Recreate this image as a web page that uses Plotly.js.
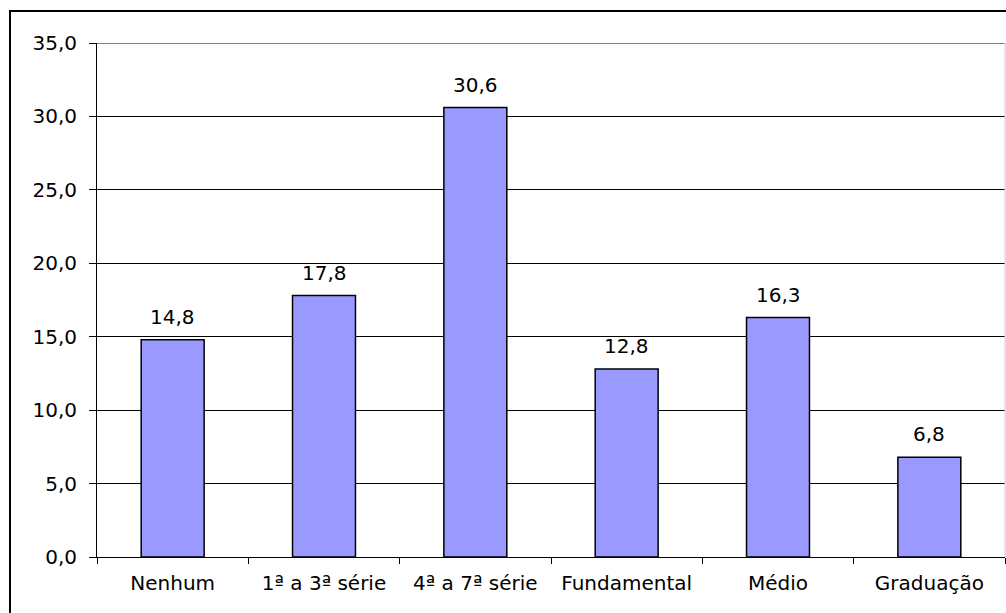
<!DOCTYPE html>
<html>
<head>
<meta charset="utf-8">
<script src="https://cdn.plot.ly/plotly-3.0.1.min.js"></script>
<style>
  html, body { margin: 0; padding: 0; overflow: hidden; background: #fff; }
  #frame { position: absolute; left: 9px; top: 10px; width: 1100px; height: 700px; border: 2px solid #000; box-sizing: border-box; }
  #chart { position: absolute; left: 0; top: 0; width: 1006px; height: 613px; }
</style>
</head>
<body>
<div id="frame"></div>
<div id="chart"></div>
<script>
// Escolaridade (%)
const categorias = ['Nenhum', '1ª a 3ª série', '4ª a 7ª série', 'Fundamental', 'Médio', 'Graduação'];
const percentuais = [14.8, 17.8, 30.6, 12.8, 16.3, 6.8];
const yTicks = [0, 5, 10, 15, 20, 25, 30, 35];

const fmt = v => v.toFixed(1).replace('.', ',');
const fonte = { family: 'DejaVu Sans, Verdana, sans-serif', size: 20, color: '#000' };

const trace = {
  type: 'bar',
  x: categorias,
  y: percentuais,
  marker: { color: '#9999FF', line: { color: '#000', width: 1.5 } },
  hoverinfo: 'skip'
};

const rotulos = categorias.map((c, i) => ({
  x: c, y: percentuais[i], xref: 'x', yref: 'y',
  text: fmt(percentuais[i]), showarrow: false,
  yanchor: 'bottom', yshift: 9, font: fonte
}));

const layout = {
  width: 1006, height: 613,
  margin: { l: 97, r: 1, t: 43, b: 56 },
  paper_bgcolor: 'rgba(0,0,0,0)',
  plot_bgcolor: '#fff',
  showlegend: false,
  separators: ',.',
  bargap: 0.584,
  font: fonte,
  xaxis: {
    type: 'category',
    tickson: 'boundaries',
    ticks: 'outside', ticklen: 6, tickcolor: '#000', tickwidth: 1,
    showline: true, linecolor: '#000', linewidth: 1,
    showgrid: false,
    ticklabelstandoff: 8,
    tickfont: fonte
  },
  yaxis: {
    range: [0, 35],
    tickvals: yTicks,
    ticktext: yTicks.map(fmt),
    ticks: 'outside', ticklen: 7, tickcolor: '#000', tickwidth: 1,
    showline: true, linecolor: '#000', linewidth: 1,
    showgrid: true, gridcolor: '#000', gridwidth: 1,
    zeroline: false,
    ticklabelstandoff: 8,
    tickfont: fonte
  },
  shapes: [
    { type: 'line', xref: 'paper', yref: 'y', x0: 0, x1: 1, y0: 35, y1: 35,
      line: { color: '#808080', width: 2 }, layer: 'above' },
    { type: 'line', xref: 'paper', yref: 'paper', x0: 1, x1: 1, y0: 0, y1: 1,
      line: { color: '#c8c8c8', width: 1 }, layer: 'above' }
  ],
  annotations: rotulos
};

Plotly.newPlot('chart', [trace], layout, { displayModeBar: false, staticPlot: true });
</script>
</body>
</html>
